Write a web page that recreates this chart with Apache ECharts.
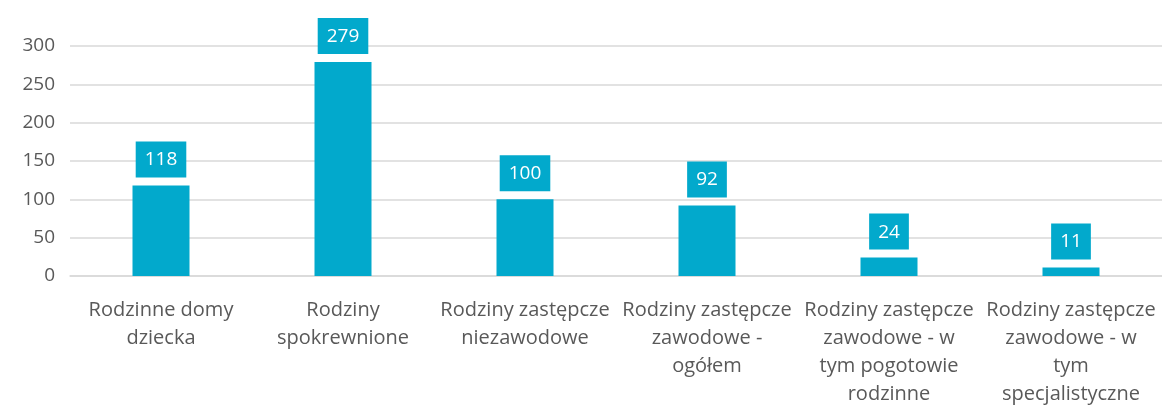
<!DOCTYPE html>
<html>
<head>
<meta charset="utf-8">
<script src="https://cdn.jsdelivr.net/npm/echarts@6/dist/echarts.min.js"></script>
<style>
  html, body { margin: 0; padding: 0; background: #fff; }
  #chart { width: 1162px; height: 405px; }
</style>
</head>
<body>
<div id="chart"></div>
<script>
var categories = [
  'Rodzinne domy\ndziecka',
  'Rodziny\nspokrewnione',
  'Rodziny zastępcze\nniezawodowe',
  'Rodziny zastępcze\nzawodowe -\nogółem',
  'Rodziny zastępcze\nzawodowe - w\ntym pogotowie\nrodzinne',
  'Rodziny zastępcze\nzawodowe - w\ntym\nspecjalistyczne'
];
var values = [118, 279, 100, 92, 24, 11];

var barColor = '#02a9cc';
var textColor = '#595959';
var fontFamily = '"Open Sans", sans-serif';

var chart = echarts.init(document.getElementById('chart'));
chart.setOption({
  animation: false,
  grid: { left: 70, right: 0, top: 46, bottom: 129, outerBoundsMode: 'none', containLabel: false },
  xAxis: {
    type: 'category',
    data: categories,
    axisLine: { lineStyle: { color: '#d9d9d9', width: 1.5 } },
    axisTick: { show: false },
    axisLabel: {
      interval: 0,
      color: textColor,
      fontSize: 20,
      fontFamily: fontFamily,
      lineHeight: 28,
      margin: 20
    }
  },
  yAxis: {
    type: 'value',
    min: 0,
    max: 300,
    interval: 50,
    axisLine: { show: false },
    axisTick: { show: false },
    splitLine: { lineStyle: { color: '#d9d9d9', width: 1.5 } },
    axisLabel: {
      color: textColor,
      fontSize: 19,
      fontFamily: fontFamily,
      margin: 15
    }
  },
  series: [{
    type: 'bar',
    data: values,
    barWidth: 57,
    itemStyle: { color: barColor },
    label: {
      show: true,
      position: 'top',
      distance: 8,
      color: '#fff',
      fontSize: 19,
      fontFamily: fontFamily,
      backgroundColor: barColor,
      padding: [9, 9, 8, 9]
    }
  }]
});
</script>
</body>
</html>
